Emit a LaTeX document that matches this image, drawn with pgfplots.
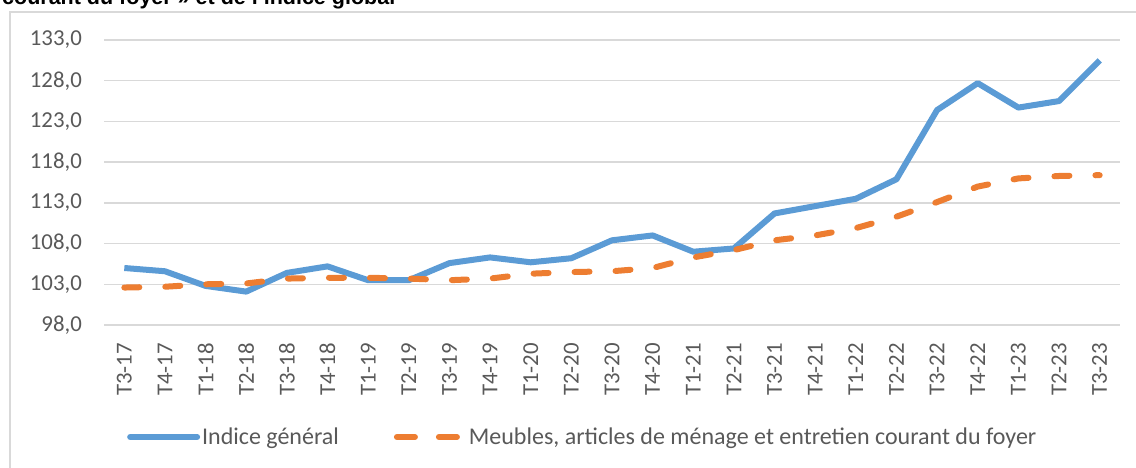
\documentclass[border=0pt]{standalone}
\usepackage{pgfplots}
\pgfplotsset{compat=1.18}
\usepackage{fontspec}
\setmainfont{Carlito}
\newfontfamily\titlefont{Liberation Sans}
\definecolor{cblue}{HTML}{5B9BD5}
\definecolor{corange}{HTML}{ED7D31}
\definecolor{cgrid}{HTML}{D9D9D9}
\definecolor{ctext}{HTML}{595959}
\begin{document}
\begin{tikzpicture}
\draw[cgrid, line width=2bp] (10bp,-20bp) rectangle (1160bp,456bp);
\node[anchor=base west, inner sep=0pt, font=\titlefont\bfseries\fontsize{21.5bp}{25bp}\selectfont] at (2bp,463bp) {courant du foyer » et de l’indice global};
\begin{axis}[
  at={(104bp,143bp)}, anchor=south west,
  scale only axis, width=1016bp, height=285bp,
  xmin=-0.5, xmax=24.5, ymin=98, ymax=133,
  ytick={98,103,108,113,118,123,128,133},
  xtick={0,...,24},
  xticklabels={T3-17,T4-17,T1-18,T2-18,T3-18,T4-18,T1-19,T2-19,T3-19,T4-19,T1-20,T2-20,T3-20,T4-20,T1-21,T2-21,T3-21,T4-21,T1-22,T2-22,T3-22,T4-22,T1-23,T2-23,T3-23},
  axis line style={draw=none},
  tick style={draw=none},
  ymajorgrids,
  major grid style={cgrid, line width=1.5bp},
  /pgf/number format/assume math mode=true,
  /pgf/number format/fixed,
  /pgf/number format/fixed zerofill,
  /pgf/number format/precision=1,
  /pgf/number format/use comma,
  ticklabel style={font=\fontsize{22.8bp}{27bp}\selectfont, text=ctext},
  yticklabel style={anchor=east, inner sep=0pt},
  yticklabel shift=22bp,
  xticklabel style={rotate=90, anchor=east, inner sep=0pt},
  xticklabel shift=18bp,
  legend columns=2,
  legend image code/.code={\draw[#1] (0bp,0bp) -- (67bp,0bp);},
  legend style={at={(axis description cs:0.0226,-0.393)}, anchor=west, draw=none, fill=none, inner sep=0pt,
    font=\fontsize{24bp}{28bp}\selectfont, text=ctext,
    nodes={inner sep=0pt},
    /tikz/every odd column/.append style={column sep=2bp},
    /tikz/every even column/.append style={column sep=55bp}},
  legend cell align=left,
]
\addplot[cblue, line width=6bp, line join=round, forget plot] coordinates {
(0,105.0) (1,104.6) (2,102.8) (3,102.1) (4,104.4) (5,105.2) (6,103.5) (7,103.5) (8,105.6) (9,106.3) (10,105.7) (11,106.2) (12,108.4) (13,109.0) (14,107.0) (15,107.4) (16,111.7) (17,112.6) (18,113.5) (19,115.9) (20,124.4) (21,127.7) (22,124.7) (23,125.5) (24,130.5)};
\addplot[corange, line width=6bp, line cap=round, dash pattern=on 15bp off 26bp, forget plot] coordinates {
(0,102.6) (1,102.7) (2,103.0) (3,103.1) (4,103.7) (5,103.8) (6,103.8) (7,103.7) (8,103.5) (9,103.7) (10,104.3) (11,104.5) (12,104.6) (13,105.0) (14,106.3) (15,107.2) (16,108.4) (17,109.0) (18,109.9) (19,111.3) (20,113.1) (21,115.0) (22,116.0) (23,116.3) (24,116.4)};
\addlegendimage{cblue, line width=6bp, line cap=round}
\addlegendentry{Indice général}
\addlegendimage{corange, line width=6bp, line cap=round, dash pattern=on 18bp off 24bp}
\addlegendentry{Meubles, articles de ménage et entretien courant du foyer}
\end{axis}
\pgfresetboundingbox
\path[use as bounding box] (0bp,0bp) rectangle (1136bp,468bp);
\end{tikzpicture}
\end{document}
